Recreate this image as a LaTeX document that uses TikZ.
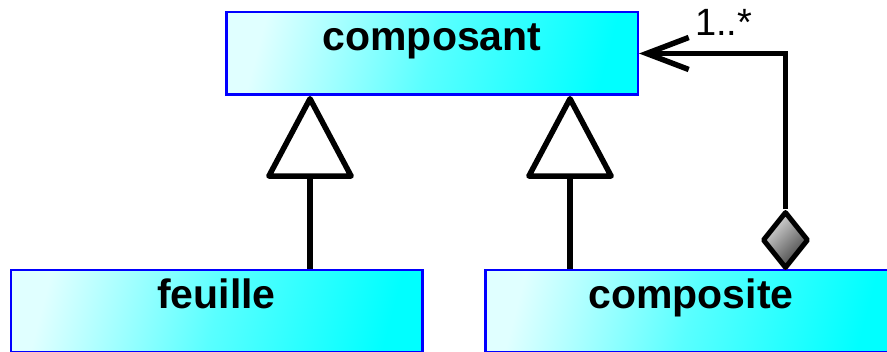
\documentclass[tikz,border=0pt]{standalone}
\usepackage{fontspec}
\setmainfont{Liberation Sans}
\usetikzlibrary{arrows.meta,shapes.geometric}

\begin{document}
\begin{tikzpicture}[
        x=1pt, y=-1pt,
        class_block/.style={draw=blue, line width=2.5pt, rectangle, minimum width=411.5pt, text height=38pt, text depth=44.5pt, inner ysep=0pt, left color=cyan!12, right color=cyan, middle color=cyan!65, shading angle=75, font=\fontsize{41pt}{41pt}\selectfont\bfseries},
        aggr_block/.style={diamond, draw=black, line width=5pt, line join=round, minimum width=46pt, minimum height=57pt, inner sep=0pt, top color=gray!25, bottom color=black!75, shading angle=45},
        inherit_arrow/.style={arrows={-{Triangle[fill=white, length=86pt, width=90pt, round]}}, line width=5.5pt, draw=black},
        aggr_arrow/.style={arrows={-{Straight Barb[length=42pt, width=32pt]}}, line width=5.5pt, draw=black},
        label_text/.style={font=\fontsize{38pt}{38pt}\selectfont, color=black}
    ]
        \useasboundingbox (0,0) rectangle (887,352);

        % Classes
        \node (composant) at (432, 53.5) [class_block] {composant};
        \node (feuille) at (216.5, 311.5) [class_block] {feuille};
        \node (composite) at (691, 311.5) [class_block] {composite};

        % Aggregation diamond
        \node (losange) at ([xshift=94.5pt, yshift=-2pt]composite.north) [aggr_block, anchor=south] {};

        % Connections
        \draw [inherit_arrow] ([xshift=93.5pt]feuille.north) -- ([xshift=-122pt]composant.south);
        \draw [inherit_arrow] ([xshift=-121pt]composite.north) -- ([xshift=138pt]composant.south);
        \draw [aggr_arrow] (losange.north) |- (composant.east) node[anchor=base west, xshift=50pt, yshift=18pt, label_text] {1..*};

    \end{tikzpicture}
\end{document}
